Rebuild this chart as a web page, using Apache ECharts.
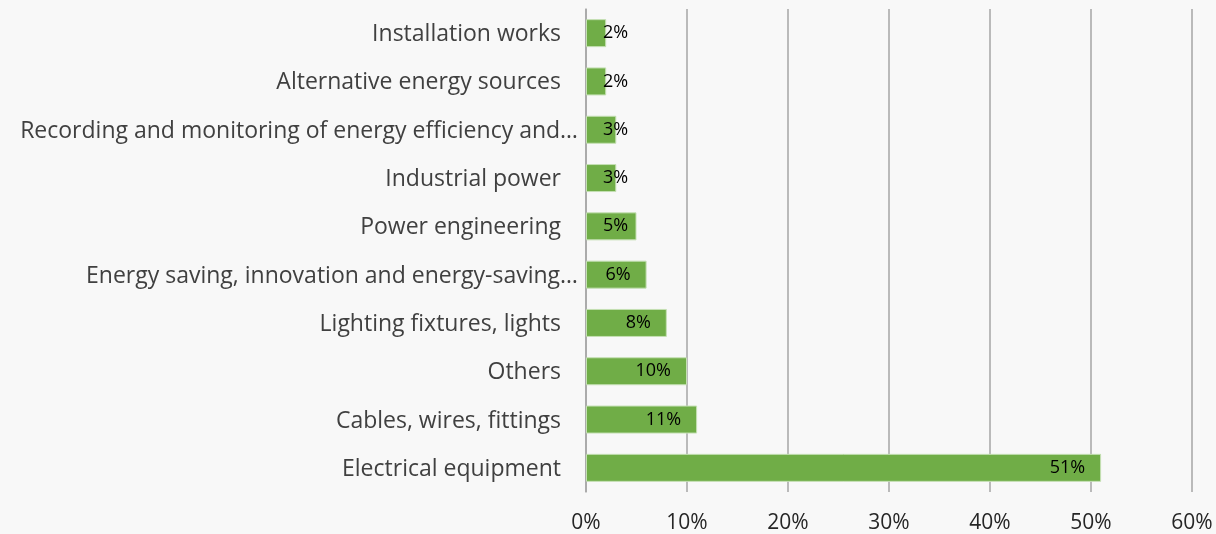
<!DOCTYPE html>
<html>
<head>
<meta charset="utf-8">
<script src="https://cdn.jsdelivr.net/npm/echarts@6/dist/echarts.min.js"></script>
<style>
  html, body { margin: 0; padding: 0; background: #f8f8f8; }
  #chart { width: 1216px; height: 534px; }
</style>
</head>
<body>
<div id="chart"></div>
<script>
// categories, top to bottom
const categories = [
  "Installation works",
  "Alternative energy sources",
  "Recording and monitoring of energy efficiency and…",
  "Industrial power",
  "Power engineering",
  "Energy saving, innovation and energy-saving…",
  "Lighting fixtures, lights",
  "Others",
  "Cables, wires, fittings",
  "Electrical equipment",
];
const shares = [2, 2, 3, 3, 5, 6, 8, 10, 11, 51];
const tickValues = [0, 10, 20, 30, 40, 50, 60];

const chart = echarts.init(document.getElementById("chart"));

const seriesData = shares.map((v) => {
  // tiny bars: Excel pushes the label out past the bar start
  if (v < 6) {
    return {
      value: v,
      label: { position: "insideLeft", distance: 17 },
    };
  }
  return { value: v };
});

const font = "Open Sans";

const option = {
  backgroundColor: "#f8f8f8",
  animation: false,
  grid: {
    left: 586,
    right: 24,
    top: 9,
    bottom: 41,
  },
  xAxis: {
    type: "value",
    min: tickValues[0],
    max: tickValues[tickValues.length - 1],
    interval: 10,
    axisLine: { show: false },
    axisTick: { show: false },
    axisLabel: {
      formatter: "{value}%",
      fontFamily: font,
      fontSize: 21,
      color: "#262626",
      margin: 21,
    },
    splitLine: {
      show: true,
      lineStyle: { color: "#a6a6a6", width: 1.5 },
    },
  },
  yAxis: {
    type: "category",
    inverse: true,
    data: categories,
    axisLine: {
      show: true,
      lineStyle: { color: "#a6a6a6", width: 1.5 },
    },
    axisTick: { show: false },
    axisLabel: {
      margin: 8,
      fontFamily: font,
      fontSize: 23,
      color: "#404040",
      formatter: (name) => {
        if (name.endsWith("…")) {
          return `{cut|${name}}`;
        }
        return `{full|${name}}`;
      },
      rich: {
        cut: {
          fontFamily: font,
          fontSize: 23,
          color: "#404040",
          padding: [3, 0, 0, 0],
        },
        full: {
          fontFamily: font,
          fontSize: 23,
          color: "#404040",
          padding: [3, 17, 0, 0],
        },
      },
    },
  },
  series: [
    {
      type: "bar",
      data: seriesData,
      barWidth: 28,
      itemStyle: {
        color: "#70ad47",
        borderColor: "#c5e0b4",
        borderWidth: 1,
      },
      label: {
        show: true,
        position: "insideRight",
        distance: 16,
        formatter: "{c}%",
        fontFamily: font,
        fontSize: 18,
        color: "#000000",
        padding: [3, 0, 0, 0],
      },
    },
  ],
};

chart.setOption(option);
</script>
</body>
</html>
